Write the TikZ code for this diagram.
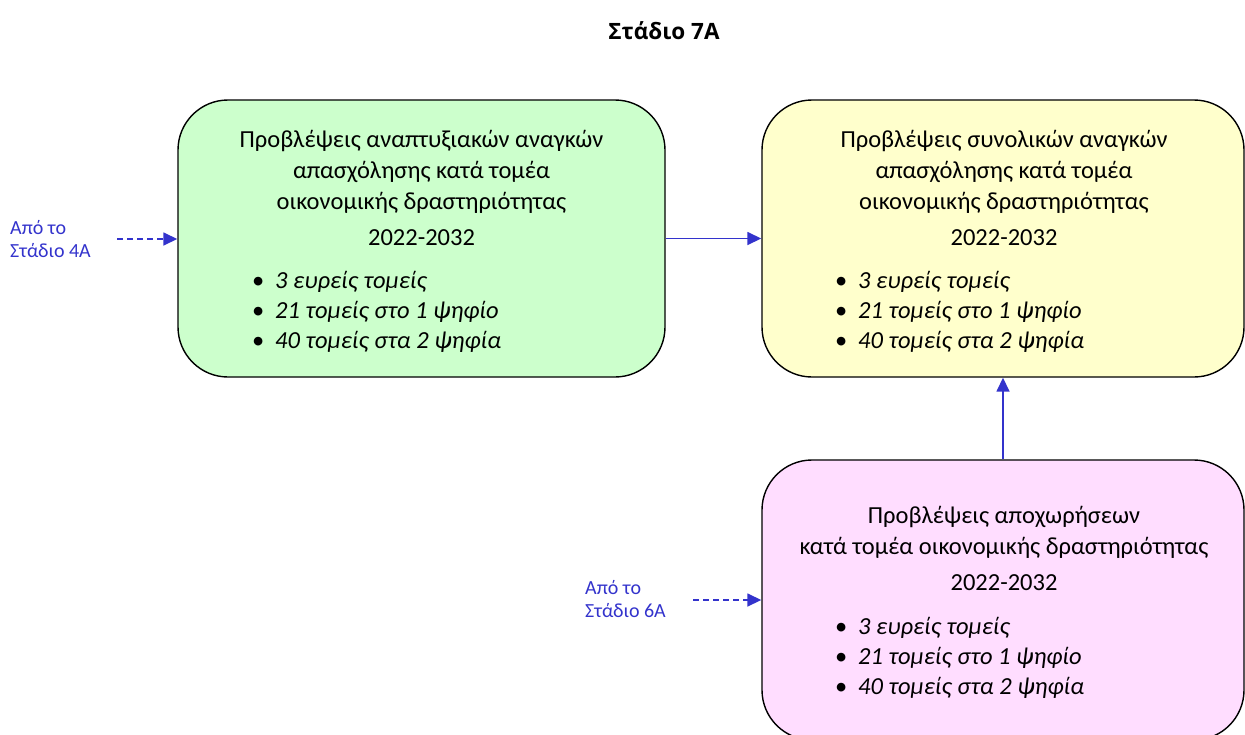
\documentclass[tikz,border=0pt]{standalone}
\usepackage{fontspec}
\setmainfont{Carlito}
\newfontfamily\titlefont{Open Sans}
\usetikzlibrary{arrows.meta}
\definecolor{flowblue}{HTML}{3333CC}
\definecolor{boxgreen}{HTML}{CCFFCC}
\definecolor{boxyellow}{HTML}{FFFFCC}
\definecolor{boxpink}{HTML}{FFDDFF}
\newcommand{\bul}[1]{\makebox[23pt][l]{•}\textit{#1}}
\tikzset{
  stagebox/.style={draw=black, line width=1.4pt, rounded corners=50pt, inner sep=0pt},
  headtxt/.style={align=center, font=\fontsize{24.5}{31}\selectfont, inner sep=0pt},
  yeartxt/.style={font=\fontsize{24.5}{30}\selectfont, inner sep=0pt},
  bultxt/.style={align=left, anchor=west, font=\fontsize{24.5}{30}\selectfont, inner sep=0pt},
  srctxt/.style={align=left, anchor=west, text=flowblue, font=\fontsize{20}{23}\selectfont, inner sep=0pt},
  flow/.style={draw=flowblue, line width=1.6pt, -{Triangle[length=14pt,width=13pt]}},
  dflow/.style={flow, dash pattern=on 6pt off 4pt},
}
\begin{document}
\begin{tikzpicture}[x=1pt,y=-1pt]
\useasboundingbox (0,0) rectangle (1245,734);
% title
\node[font=\titlefont\bfseries\fontsize{22.5}{26}\selectfont, inner sep=0pt] (title) at (664,31) {Στάδιο 7Α};
% boxes
\node[stagebox, fill=boxgreen, minimum width=487pt, minimum height=277pt] (b1) at (421.5,238.5) {};
\node[stagebox, fill=boxyellow, minimum width=482pt, minimum height=277pt] (b2) at (1003,238.5) {};
\node[stagebox, fill=boxpink, minimum width=482pt, minimum height=280pt] (b3) at (1003,600) {};
% box 1 text
\node[headtxt] (b1h) at (421.5,172) {Προβλέψεις αναπτυξιακών αναγκών\\απασχόλησης κατά τομέα\\οικονομικής δραστηριότητας};
\node[yeartxt] (b1y) at (421.5,238) {2022-2032};
\node[bultxt] (b1b) at (252,312) {\bul{3 ευρείς τομείς}\\\bul{21 τομείς στο 1 ψηφίο}\\\bul{40 τομείς στα 2 ψηφία}};
% box 2 text
\node[headtxt] (b2h) at (1004,172) {Προβλέψεις συνολικών αναγκών\\απασχόλησης κατά τομέα\\οικονομικής δραστηριότητας};
\node[yeartxt] (b2y) at (1004,238) {2022-2032};
\node[bultxt] (b2b) at (835,312) {\bul{3 ευρείς τομείς}\\\bul{21 τομείς στο 1 ψηφίο}\\\bul{40 τομείς στα 2 ψηφία}};
% box 3 text
\node[headtxt] (b3h) at (1004,532) {Προβλέψεις αποχωρήσεων\\κατά τομέα οικονομικής δραστηριότητας};
\node[yeartxt] (b3y) at (1004,583) {2022-2032};
\node[bultxt] (b3b) at (835,658) {\bul{3 ευρείς τομείς}\\\bul{21 τομείς στο 1 ψηφίο}\\\bul{40 τομείς στα 2 ψηφία}};
% source labels
\node[srctxt] (s1) at (10,239) {Από το\\Στάδιο 4Α};
\node[srctxt] (s2) at (585,599) {Από το\\Στάδιο 6Α};
\coordinate (s1e) at (117,239);
\coordinate (s2e) at (693,600);
% connectors
\draw[flow] (b1.east) -- (b1.east -| b2.west);
\draw[flow] (b2.south |- b3.north) -- (b2.south);
\draw[dflow] (s1e) -- (s1e -| b1.west);
\draw[dflow] (s2e) -- (s2e -| b3.west);
\end{tikzpicture}
\end{document}
